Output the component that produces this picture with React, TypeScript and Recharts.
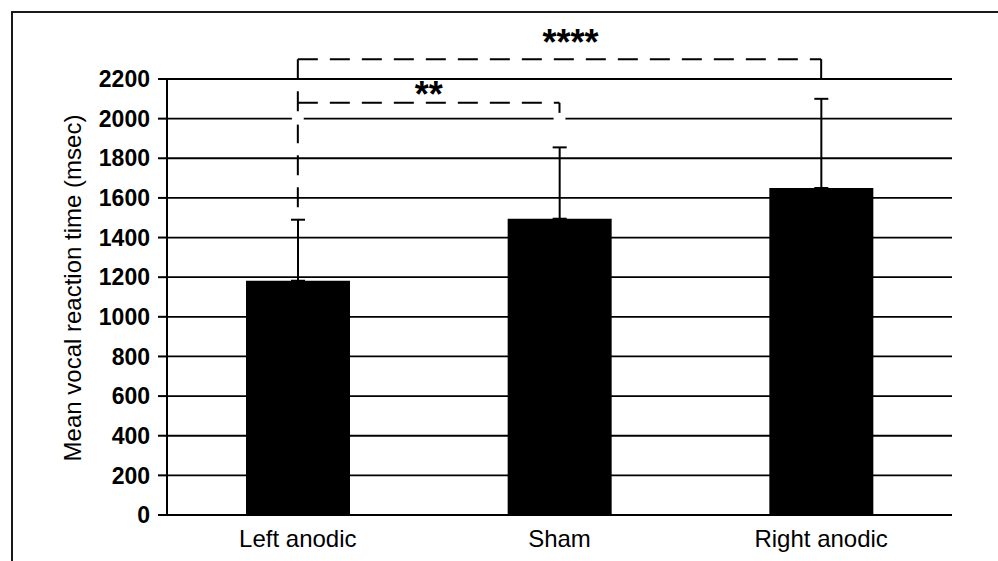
import { BarChart, Bar, XAxis, YAxis, CartesianGrid, ErrorBar, ReferenceLine, ReferenceDot } from 'recharts'

const conditions = ['Left anodic', 'Sham', 'Right anodic']
const meanRt = [1182, 1495, 1650]
const sdRt = [308, 360, 450]
const yTicks = [0, 200, 400, 600, 800, 1000, 1200, 1400, 1600, 1800, 2000, 2200]

// bracket heights, in msec on the y scale
const wideLevel = 2300
const wideDropLeft = 1540
const wideDropRight = 2180
const narrowLevel = 2080
const narrowDropRight = 1945

const data = conditions.map((name, i) => ({
  name,
  rt: meanRt[i],
  sd: [0, sdRt[i]],
}))

const FONT = '"Liberation Sans", Arial, sans-serif'

const Stars = (props: any) => {
  const { viewBox, text, shift = 0, drop = 0 } = props
  const cx = viewBox.x + viewBox.width / 2 + shift
  return (
    <text x={cx} y={viewBox.y + drop} textAnchor="middle" fontFamily={FONT} fontWeight={700} fontSize={36} fill="#000">
      {text}
    </text>
  )
}

const AxisTitle = (props: any) => {
  const { viewBox } = props
  const x = viewBox.x + 5
  const y = viewBox.y + viewBox.height / 2 - 9
  return (
    <text
      x={x}
      y={y}
      transform={`rotate(-90, ${x}, ${y})`}
      textAnchor="middle"
      dominantBaseline="central"
      fontFamily={FONT}
      fontSize={24}
      fill="#000"
    >
      Mean vocal reaction time (msec)
    </text>
  )
}

const dashed = { stroke: '#000', strokeWidth: 2, strokeDasharray: '20 12', ifOverflow: 'visible' as const }

export default function App() {
  return (
    <div style={{ position: 'absolute', left: 0, top: 0, width: 998, height: 561, background: '#fff', overflow: 'hidden' }}>
      <div
        style={{
          position: 'absolute',
          left: 11,
          top: 11,
          width: 1000,
          height: 600,
          borderTop: '2px solid #1a1a1a',
          borderLeft: '2px solid #1a1a1a',
        }}
      />
      <BarChart
        width={998}
        height={561}
        data={data}
        margin={{ top: 79, right: 46, bottom: 16, left: 67 }}
        barSize={104}
        style={{ position: 'absolute', left: 0, top: 0 }}
      >
        <CartesianGrid vertical={false} stroke="#000" strokeWidth={1.8} />
        <XAxis
          dataKey="name"
          height={30}
          tickLine={false}
          tickSize={0}
          tickMargin={15}
          axisLine={{ stroke: '#000', strokeWidth: 2 }}
          tick={{ fill: '#000', fontSize: 24, fontFamily: FONT }}
        />
        <YAxis
          width={100}
          domain={[0, 2200]}
          ticks={yTicks}
          interval={0}
          tickSize={9}
          tickMargin={8}
          axisLine={{ stroke: '#000', strokeWidth: 2 }}
          tickLine={{ stroke: '#000', strokeWidth: 2 }}
          tick={{ fill: '#000', fontSize: 23, fontWeight: 700, fontFamily: FONT }}
          label={<AxisTitle />}
        />
        <Bar dataKey="rt" fill="#000" isAnimationActive={false}>
          <ErrorBar dataKey="sd" direction="y" width={7} stroke="#000" strokeWidth={2} isAnimationActive={false} />
        </Bar>
        <ReferenceDot x="Left anodic" y={2000} r={6} fill="#fff" stroke="none" ifOverflow="visible" />
        <ReferenceDot x="Sham" y={2000} r={6} fill="#fff" stroke="none" ifOverflow="visible" />
        <ReferenceLine
          {...dashed}
          segment={[{ x: 'Left anodic', y: wideLevel }, { x: 'Right anodic', y: wideLevel }]}
          label={<Stars text="****" shift={11} drop={-4} />}
        />
        <ReferenceLine {...dashed} segment={[{ x: 'Left anodic', y: wideLevel }, { x: 'Left anodic', y: wideDropLeft }]} />
        <ReferenceLine {...dashed} segment={[{ x: 'Right anodic', y: wideLevel }, { x: 'Right anodic', y: wideDropRight }]} />
        <ReferenceLine
          {...dashed}
          segment={[{ x: 'Left anodic', y: narrowLevel }, { x: 'Sham', y: narrowLevel }]}
          label={<Stars text="**" shift={0} drop={4} />}
        />
        <ReferenceLine {...dashed} segment={[{ x: 'Sham', y: narrowLevel }, { x: 'Sham', y: narrowDropRight }]} />
      </BarChart>
    </div>
  )
}
